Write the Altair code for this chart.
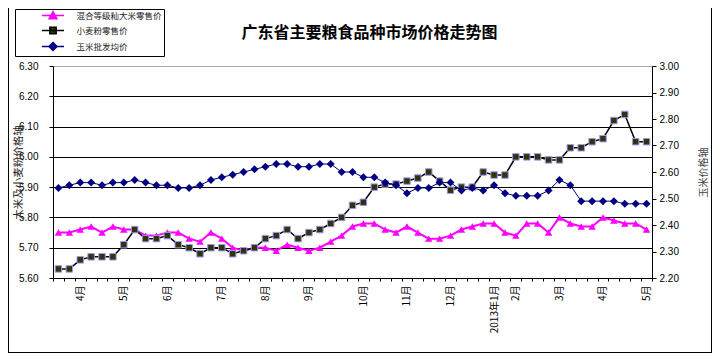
import altair as alt
import pandas as pd

# ---- data ----
week_index = list(range(55))
rice = [5.75, 5.75, 5.76, 5.77, 5.75, 5.77, 5.76, 5.76, 5.74, 5.74,
        5.75, 5.75, 5.73, 5.72, 5.75, 5.73, 5.70, 5.69, 5.70, 5.70,
        5.69, 5.71, 5.70, 5.69, 5.70, 5.72, 5.74, 5.77, 5.78, 5.78,
        5.76, 5.75, 5.77, 5.75, 5.73, 5.73, 5.74, 5.76, 5.77, 5.78,
        5.78, 5.75, 5.74, 5.78, 5.78, 5.75, 5.80, 5.78, 5.77, 5.77,
        5.80, 5.79, 5.78, 5.78, 5.76]
wheat = [5.63, 5.63, 5.66, 5.67, 5.67, 5.67, 5.71, 5.76, 5.73, 5.73,
         5.74, 5.71, 5.70, 5.68, 5.70, 5.70, 5.68, 5.69, 5.70, 5.73,
         5.74, 5.76, 5.73, 5.75, 5.76, 5.78, 5.80, 5.84, 5.85, 5.90,
         5.91, 5.91, 5.92, 5.93, 5.95, 5.92, 5.89, 5.90, 5.90, 5.95,
         5.94, 5.94, 6.00, 6.00, 6.00, 5.99, 5.99, 6.03, 6.03, 6.05,
         6.06, 6.12, 6.14, 6.05, 6.05]
corn = [2.54, 2.55, 2.56, 2.56, 2.55, 2.56, 2.56, 2.57, 2.56, 2.55,
        2.55, 2.54, 2.54, 2.55, 2.57, 2.58, 2.59, 2.60, 2.61, 2.62,
        2.63, 2.63, 2.62, 2.62, 2.63, 2.63, 2.60, 2.60, 2.58, 2.58,
        2.56, 2.55, 2.52, 2.54, 2.54, 2.56, 2.56, 2.53, 2.54, 2.53,
        2.55, 2.52, 2.51, 2.51, 2.51, 2.53, 2.57, 2.55, 2.49, 2.49,
        2.49, 2.49, 2.48, 2.48, 2.48]
month_pos = [2, 6, 10, 15, 19, 23, 28, 32, 36, 40, 42, 46, 50, 54]
month_lab = ["4月", "5月", "6月", "7月", "8月", "9月", "10月", "11月", "12月",
             "2013年1月", "2月", "3月", "4月", "5月"]
series_names = ["混合等级籼大米零售价", "小麦粉零售价", "玉米批发均价"]
left_ticks = [5.6, 5.7, 5.8, 5.9, 6.0, 6.1, 6.2, 6.3]
right_ticks = [2.2, 2.3, 2.4, 2.5, 2.6, 2.7, 2.8, 2.9, 3.0]
title_text = "广东省主要粮食品种市场价格走势图"
left_title = "大米及小麦粉价格轴"
right_title = "玉米价格轴"

df = pd.DataFrame({"i": week_index, "rice": rice, "wheat": wheat, "corn": corn})
leg_df = pd.DataFrame({"series": series_names})

CJK = "Noto Sans CJK SC"
NUM = "Liberation Sans"

# label expression for months
expr = "''"
for p, l in reversed(list(zip(month_pos, month_lab))):
    expr = f"datum.value == {p} ? '{l}' : ({expr})"

X = alt.X("i:O", title=None,
          scale=alt.Scale(paddingInner=0, paddingOuter=0),
          axis=alt.Axis(tickBand="extent", labelAngle=270, labelExpr=expr,
                        labelOverlap=False, labelFont=CJK, labelFontSize=10,
                        labelColor="#000", labelPadding=4, tickSize=3,
                        tickColor="#000", domainColor="#000", grid=False))

left_axis = alt.Axis(values=left_ticks, format=".2f", grid=True,
                     gridColor={"condition": {"test": "datum.value > 6.25", "value": "#aaaaaa"},
                                "value": "#000000"},
                     gridWidth=1, tickSize=4, tickColor="#000", domainColor="#000",
                     labelFont=NUM, labelFontSize=10, labelColor="#000", labelPadding=11,
                     title=left_title, titleAngle=270, titleX=-35, titleY=106,
                     titleBaseline="middle", titleFont=CJK, titleFontSize=10.5,
                     titleFontWeight="normal", titleColor="#222")
YL = lambda f: alt.Y(f"{f}:Q", scale=alt.Scale(domain=[5.6, 6.3], nice=False, zero=False),
                     axis=left_axis)

right_axis = alt.Axis(values=right_ticks, format=".2f", grid=False, orient="right",
                      tickSize=4, tickColor="#000", domainColor="#000",
                      labelFont=NUM, labelFontSize=10, labelColor="#000", labelPadding=3,
                      title=right_title, titleAngle=270, titleX=51, titleY=106,
                      titleBaseline="middle", titleFont=CJK, titleFontSize=10,
                      titleFontWeight="normal", titleColor="#444")
YR = alt.Y("corn:Q", scale=alt.Scale(domain=[2.2, 3.0], nice=False, zero=False),
           axis=right_axis)

base = alt.Chart(df)

rice_line = base.mark_line(color="#FF00FF", strokeWidth=2).encode(x=X, y=YL("rice"))
rice_pts = base.mark_point(shape="triangle-up", filled=True, color="#FF00FF",
                           size=55, opacity=1).encode(x=X, y=YL("rice"))
wheat_line = base.mark_line(color="#000000", strokeWidth=1.5).encode(x=X, y=YL("wheat"))
wheat_pts = base.mark_point(shape="square", filled=True, fill="#333300", stroke="#9999FF",
                            strokeWidth=1, size=42, opacity=1).encode(x=X, y=YL("wheat"))

paths = ["M-3.15,0H3.15M0,-1.1L1.1,0.9L-1.1,0.9Z",
         "M-3.15,0H3.15M-0.9,-0.9H0.9V0.9H-0.9Z",
         "M-3.15,0H3.15M0,-1.15L1.15,0L0,1.15L-1.15,0Z"]
fills = ["#FF00FF", "#333300", "#000080"]
strokes = ["#FF00FF", "#000000", "#000080"]
nb = "\u00a0" * 13
leg = alt.Legend(title=None, orient="none", legendX=-38, legendY=-57,
                 strokeColor="#000", padding=2, rowPadding=2,
                 symbolSize=49, symbolStrokeWidth=1.5,
                 symbolOffset=31.5, labelOffset=19, labelFont=CJK,
                 labelFontSize=8.5, labelColor="#222",
                 labelExpr=f"datum.label + '{nb}'", fillColor="#ffffff")
legend_layer = alt.Chart(leg_df).transform_filter("false").mark_point(
    filled=False, opacity=1, strokeWidth=1.5, size=49).encode(
    shape=alt.Shape("series:N", scale=alt.Scale(domain=series_names, range=paths), legend=leg),
    fill=alt.Fill("series:N", scale=alt.Scale(domain=series_names, range=fills), legend=leg),
    stroke=alt.Stroke("series:N", scale=alt.Scale(domain=series_names, range=strokes), legend=leg),
)

# decorative outer frame of the figure (left, right, bottom edges)
frame_left = alt.Chart(leg_df).mark_rule(color="#000", strokeWidth=1).encode(
    x=alt.value(-44.5), y=alt.value(-58), y2=alt.value(286.5))
frame_right = alt.Chart(leg_df).mark_rule(color="#000", strokeWidth=1).encode(
    x=alt.value(658.5), y=alt.value(-58), y2=alt.value(286.5))
frame_bottom = alt.Chart(leg_df).mark_rule(color="#000", strokeWidth=1).encode(
    x=alt.value(-45), x2=alt.value(659), y=alt.value(286.5))

corn_line = base.mark_line(color="#000080", strokeWidth=1).encode(x=X, y=YR)
corn_pts = base.mark_point(shape="diamond", filled=True, color="#000080",
                           size=64, opacity=1).encode(x=X, y=YR)

left = alt.layer(rice_line, rice_pts, wheat_line, wheat_pts, legend_layer,
                 frame_left, frame_right, frame_bottom)
right = alt.layer(corn_line, corn_pts)

chart = alt.layer(left, right).resolve_scale(y="independent").properties(
    width=599, height=212,
    title=alt.TitleParams(title_text, font=CJK, fontSize=16, fontWeight="bold",
                          color="#000", anchor="middle", dx=17, dy=59, offset=26),
    autosize=alt.AutoSizeParams(type="none"),
    padding={"left": 45, "top": 58, "right": 60, "bottom": 75},
).configure_view(stroke="#aaaaaa", strokeWidth=1).configure_legend(
    strokeWidth=1).configure(background="#ffffff")

chart.save("out.html", embed_options={"renderer": "svg", "actions": False})
